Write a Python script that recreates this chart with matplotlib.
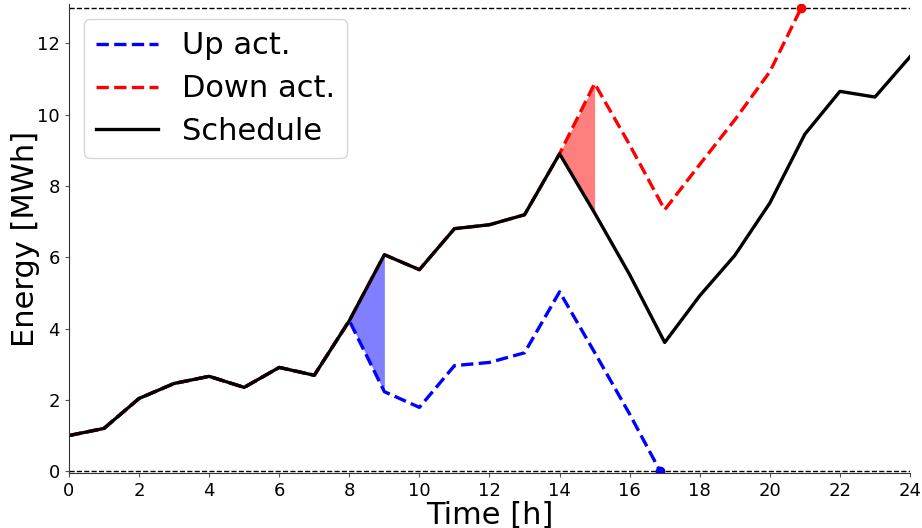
import numpy as np
import matplotlib
matplotlib.use("Agg")
import matplotlib.pyplot as plt

# Hourly schedule (MWh)
hours = list(range(25))
schedule = [1.0, 1.2, 2.04, 2.46, 2.66, 2.35, 2.91, 2.69, 4.22, 6.07,
            5.65, 6.8, 6.91, 7.19, 8.9, 7.24, 5.51, 3.61, 4.92, 6.05,
            7.52, 9.45, 10.65, 10.49, 11.62]

# Up activation (ends where it hits the lower bound)
up_x = [0, 1, 2, 3, 4, 5, 6, 7, 8, 9, 10, 11, 12, 13, 14, 15, 16, 16.87]
up_y = [1.0, 1.2, 2.04, 2.46, 2.66, 2.35, 2.91, 2.69, 4.22, 2.23,
        1.79, 2.96, 3.05, 3.32, 5.03, 3.33, 1.6, 0.0]

# Down activation (ends where it hits the upper bound)
down_x = [0, 1, 2, 3, 4, 5, 6, 7, 8, 9, 10, 11, 12, 13, 14, 15, 16, 17,
          18, 19, 20, 20.9]
down_y = [1.0, 1.2, 2.04, 2.46, 2.66, 2.35, 2.91, 2.69, 4.22, 6.07,
          5.65, 6.8, 6.91, 7.19, 8.9, 10.87, 9.15, 7.33, 8.6, 9.85,
          11.2, 13.0]

e_min, e_max = 0.0, 13.0

fig = plt.figure(figsize=(9.22, 5.28), dpi=100)
ax = fig.add_axes([0.0748, 0.1035, 0.9122, 0.889])

ax.axhline(e_min, color="black", linestyle="--", linewidth=1)
ax.axhline(e_max, color="black", linestyle="--", linewidth=1)

ax.plot(up_x, up_y, color="blue", linestyle="--", linewidth=2.4, label="Up act.")
ax.plot(down_x, down_y, color="red", linestyle="--", linewidth=2.4, label="Down act.")
ax.plot(hours, schedule, color="black", linewidth=2.4, label="Schedule")

ax.plot(up_x[-1], up_y[-1], "o", color="blue", markersize=6)
ax.plot(down_x[-1], down_y[-1], "o", color="red", markersize=6)

# shaded activation hours
ax.fill_between(hours[8:10], schedule[8:10], up_y[8:10], color="blue", alpha=0.5, linewidth=0)
ax.fill_between(hours[14:16], schedule[14:16], down_y[14:16], color="red", alpha=0.5, linewidth=0)

ax.set_xlim(0, 24)
ax.set_ylim(-0.06, 13.1)
ax.set_xticks(range(0, 25, 2))
ax.set_yticks(range(0, 13, 2))
ax.tick_params(labelsize=13, color="#555555", length=3)
for s in ["top", "right"]:
    ax.spines[s].set_visible(False)
for s in ["left", "bottom"]:
    ax.spines[s].set_color("#333333")

ax.set_xlabel("Time [h]", fontsize=22, labelpad=0)
ax.set_ylabel("Energy [MWh]", fontsize=22, labelpad=-2)
ax.legend(loc="upper left", fontsize=22, labelspacing=0.45)

fig.savefig("out.png", dpi=100)
